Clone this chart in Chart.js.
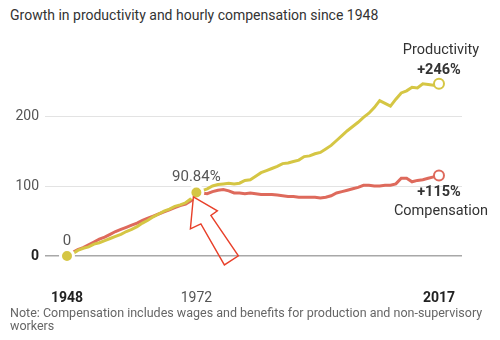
<!DOCTYPE html>
<html>
<head>
<meta charset="utf-8">
<script src="https://cdn.jsdelivr.net/npm/chart.js@4/dist/chart.umd.min.js"></script>
<style>
  html, body { margin: 0; padding: 0; background: #fff; }
  body { width: 500px; height: 340px; position: relative; overflow: hidden; font-family: Roboto, sans-serif; }
  #chart { position: absolute; left: 0; top: 0; }
  .title { position: absolute; left: 10px; top: 7px; font-size: 14px; color: #333; white-space: nowrap; }
  .note { position: absolute; left: 10px; top: 306px; font-size: 12.5px; line-height: 13px; color: #666; white-space: nowrap; }
</style>
</head>
<body>
<div class="title">Growth in productivity and hourly compensation since 1948</div>
<canvas id="chart" width="500" height="340"></canvas>
<div class="note">Note: Compensation includes wages and benefits for production and non-supervisory<br>workers</div>

<script>
// Cumulative % change since 1948
const years = [
  1948, 1949, 1950, 1951, 1952, 1953, 1954, 1955, 1956, 1957,
  1958, 1959, 1960, 1961, 1962, 1963, 1964, 1965, 1966, 1967,
  1968, 1969, 1970, 1971, 1972, 1973, 1974, 1975, 1976, 1977,
  1978, 1979, 1980, 1981, 1982, 1983, 1984, 1985, 1986, 1987,
  1988, 1989, 1990, 1991, 1992, 1993, 1994, 1995, 1996, 1997,
  1998, 1999, 2000, 2001, 2002, 2003, 2004, 2005, 2006, 2007,
  2008, 2009, 2010, 2011, 2012, 2013, 2014, 2015, 2016, 2017
];
const productivity = [
  0, 3, 8, 11, 13, 17, 19, 22, 25, 28,
  31, 35, 38, 42, 47, 51, 56, 60, 64, 67,
  71, 73, 76, 82, 90.84, 93, 96, 100, 102, 103,
  104, 103, 104, 108, 109, 114, 119, 122, 125, 128,
  132, 133, 135, 137, 142, 143, 146, 148, 153, 158,
  165, 172, 179, 185, 191, 198, 204, 212, 222, 218,
  214, 224, 233, 236, 241, 240, 246, 245, 244, 246
];
const compensation = [
  0, 5, 9, 12, 16, 20, 24, 27, 31, 35,
  38, 41, 44, 47, 51, 54, 57, 60, 63, 66,
  69, 72, 74, 79, 86, 90, 89, 92, 94, 95,
  93, 90, 90, 89, 90, 89, 88, 88, 88, 87,
  86, 85, 85, 84, 84, 84, 84, 83, 84, 86,
  90, 92, 94, 96, 98, 101, 101, 100, 100, 101,
  101, 103, 111, 111, 106, 108, 109, 111, 113, 115
];
const markerYears = [1948, 1972];
const markerValues = [0, 90.84];
const markerLabels = ['0', '90.84%'];
const yTicks = [0, 100, 200];
const xTicks = [1948, 1972, 2017];

const YELLOW = '#d5c644';
const RED = '#de6a5c';
const FONT = 'Roboto, sans-serif';

const toPoints = (vals) => vals.map((v, i) => ({ x: years[i], y: v }));
const lastOnly = (n, r) => (ctx) => (ctx.dataIndex === n - 1 ? r : 0);

// Text labels, end labels and the hand-drawn arrow
const annotations = {
  id: 'annotations',
  afterDatasetsDraw(chart) {
    const { ctx, scales: { x, y } } = chart;
    ctx.save();
    ctx.textAlign = 'center';
    ctx.textBaseline = 'middle';
    ctx.fillStyle = '#555';
    ctx.font = `15px ${FONT}`;
    markerYears.forEach((yr, i) => {
      ctx.fillText(markerLabels[i], x.getPixelForValue(yr), y.getPixelForValue(markerValues[i]) - 15);
    });

    const endX = x.getPixelForValue(years[years.length - 1]);
    const pY = y.getPixelForValue(productivity[productivity.length - 1]);
    const cY = y.getPixelForValue(compensation[compensation.length - 1]);
    ctx.fillStyle = '#333';
    ctx.font = `14.5px ${FONT}`;
    ctx.fillText('Productivity', endX + 2, pY - 33);
    ctx.fillText('Compensation', endX + 2, cY + 36);
    ctx.font = `bold 14.5px ${FONT}`;
    ctx.fillText('+246%', endX, pY - 13);
    ctx.fillText('+115%', endX, cY + 17);

    // outline arrow pointing at the 1972 marker
    const ax = x.getPixelForValue(1972), ay = y.getPixelForValue(90.84);
    const pts = [[-3, 4.5], [21, 18.5], [14.5, 23], [42, 63.5], [28, 72.5], [4.5, 31.5], [-6, 36.5]];
    ctx.beginPath();
    pts.forEach(([dx, dy], i) => (i ? ctx.lineTo(ax + dx, ay + dy) : ctx.moveTo(ax + dx, ay + dy)));
    ctx.closePath();
    ctx.strokeStyle = '#e8402a';
    ctx.lineWidth = 1.4;
    ctx.lineJoin = 'miter';
    ctx.stroke();
    ctx.restore();
  }
};

new Chart(document.getElementById('chart'), {
  type: 'line',
  data: {
    datasets: [
      {
        label: 'markers',
        data: markerYears.map((yr, i) => ({ x: yr, y: markerValues[i] })),
        showLine: false,
        pointRadius: 6.5,
        pointBackgroundColor: YELLOW,
        pointBorderColor: '#fff',
        pointBorderWidth: 3
      },
      {
        label: 'Productivity',
        data: toPoints(productivity),
        borderColor: YELLOW,
        borderWidth: 3,
        pointRadius: lastOnly(years.length, 5),
        pointBackgroundColor: '#fff',
        pointBorderColor: YELLOW,
        pointBorderWidth: 2
      },
      {
        label: 'Compensation',
        data: toPoints(compensation),
        borderColor: RED,
        borderWidth: 3,
        pointRadius: lastOnly(years.length, 5),
        pointBackgroundColor: '#fff',
        pointBorderColor: RED,
        pointBorderWidth: 2
      }
    ]
  },
  options: {
    responsive: false,
    animation: false,
    layout: { padding: { top: 60, right: 38, bottom: 0, left: 0 } },
    plugins: { legend: { display: false }, tooltip: { enabled: false } },
    scales: {
      x: {
        type: 'linear',
        min: 1943.92,
        max: 2021.27,
        afterBuildTicks: (s) => { s.ticks = xTicks.map(v => ({ value: v })); },
        afterFit: (s) => { s.height = 70; },
        grid: { display: false },
        border: { display: false },
        ticks: {
          padding: 12,
          maxRotation: 0,
          callback: (v) => String(v),
          color: (c) => (c.tick.value === 1972 ? '#555' : '#222'),
          font: (c) => ({ family: FONT, size: 14, weight: c.tick && c.tick.value === 1972 ? 'normal' : 'bold' })
        }
      },
      y: {
        min: -20,
        max: 280,
        afterBuildTicks: (s) => { s.ticks = yTicks.map(v => ({ value: v })); },
        afterFit: (s) => { s.width = 45; },
        border: { display: false },
        grid: {
          drawTicks: false,
          color: (c) => (c.tick.value === 0 ? '#a8a8a8' : '#e3e3e3'),
          lineWidth: (c) => (c.tick.value === 0 ? 1.5 : 1)
        },
        ticks: {
          padding: 6,
          color: (c) => (c.tick.value === 0 ? '#222' : '#555'),
          font: (c) => ({ family: FONT, size: 14, weight: c.tick && c.tick.value === 0 ? 'bold' : 'normal' })
        }
      }
    }
  },
  plugins: [annotations]
});
</script>
</body>
</html>
